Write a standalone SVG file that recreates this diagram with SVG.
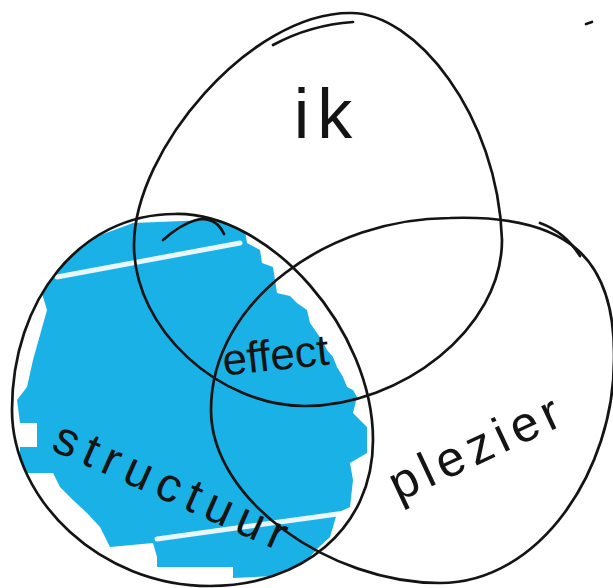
<svg xmlns="http://www.w3.org/2000/svg" width="613" height="588" viewBox="0 0 613 588">
  <style>
    .outline { fill: none; stroke: #141414; stroke-width: 2.7; stroke-linecap: round; stroke-linejoin: round; }
    .label { font-family: "Liberation Sans", "DejaVu Sans", sans-serif; fill: #141414; }
    .stripe { stroke: #ffffff; stroke-width: 5; stroke-linecap: round; fill: none; opacity: 0.9; }
  </style>
  <defs>
    <clipPath id="clipStructuur">
      <path d="M175,214 C270,212 373,330 373,440 C373,530 300,586 210,586 C100,586 12,500 12,410 C12,300 80,214 175,214 Z"/>
    </clipPath>
  </defs>
  <rect width="613" height="588" fill="#ffffff"/>

  <g id="node-structuur">
    <g clip-path="url(#clipStructuur)">
      <path fill="#1ab1e6" d="M60,250 L133,223 L233,219 L245,230 L247,243 L260,250 L262,263 L273,267 L277,293 L290,296 L297,303 L307,310 L310,323 L317,333 L322,340 L327,350 L333,357 L337,367 L343,377 L347,387 L353,390 L357,397 L353,413 L367,427 L367,453 L350,463 L353,480 L350,507 L337,513 L333,527 L330,537 L318,548 L307,560 L295,575 L233,578 L233,567 L157,567 L157,557 L153,543 L110,547 L100,527 L87,513 L73,500 L60,487 L53,473 L20,473 L20,447 L37,447 L37,423 L20,423 L17,400 L27,387 L33,360 L40,335 L47,310 L40,287 L50,268 Z"/>
      <path class="stripe" d="M57,277 L240,243"/>
      <path class="stripe" d="M157,539 L345,513"/>
    </g>
    <path class="outline" d="M175,214 C270,212 373,330 373,440 C373,530 300,586 210,586 C100,586 12,500 12,410 C12,300 80,214 175,214 Z"/>
    <path class="outline" d="M163,240 C180,225 210,205 224,234"/>
    <text class="label" font-size="48" letter-spacing="8" text-anchor="middle" transform="translate(168,502) rotate(24)">structuur</text>
  </g>

  <g id="node-ik">
    <path class="outline" d="M350,13 C415,12 498,115 502,240 C502,330 400,406 305,406 C220,406 134,330 134,245 C134,150 250,13 350,13 Z"/>
    <path class="outline" d="M273,45 Q310,25 353,22"/>
    <text class="label" x="327" y="138" font-size="70" letter-spacing="8" text-anchor="middle">ik</text>
  </g>

  <g id="node-plezier">
    <path class="outline" d="M450,218 C570,214 616,260 614,360 C614,470 540,583 440,583 C330,583 211,500 211,410 C211,300 330,218 450,218 Z"/>
    <path class="outline" d="M540,223 Q565,232 580,256"/>
    <text class="label" font-size="50" letter-spacing="6" text-anchor="middle" transform="translate(484,462) rotate(-25)">plezier</text>
  </g>

  <g id="node-effect">
    <text class="label" font-size="44" text-anchor="middle" transform="translate(277,370) rotate(-6)">effect</text>
  </g>

  <path class="outline" d="M586,24 L592,22" stroke-width="2"/>
</svg>
